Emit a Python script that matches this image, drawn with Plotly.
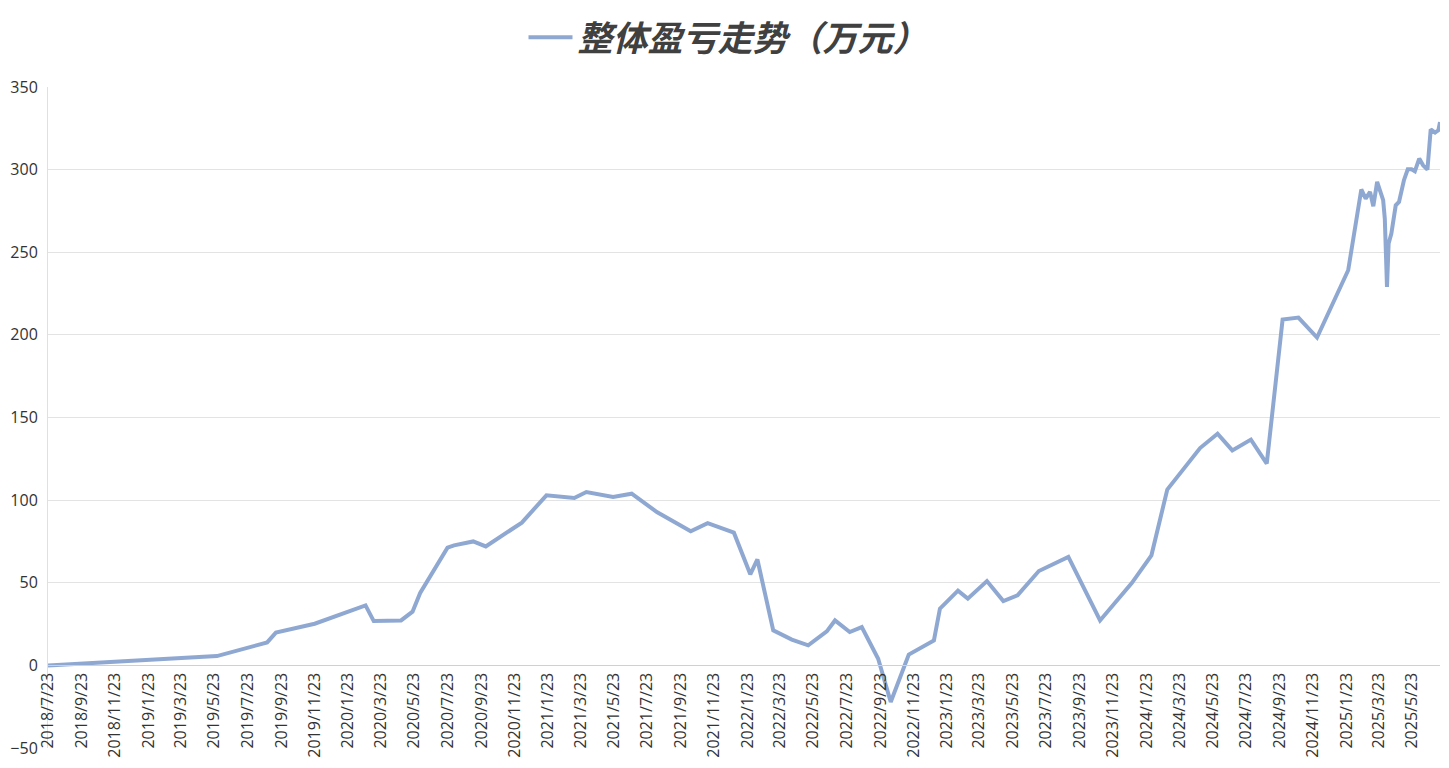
import plotly.graph_objects as go

series_name = "整体盈亏走势（万元）"

dates = [
    "2018-07-23", "2019-05-28", "2019-08-28", "2019-09-13", "2019-11-23",
    "2020-02-24", "2020-03-10", "2020-04-29", "2020-05-20", "2020-06-03",
    "2020-07-23", "2020-08-04", "2020-09-08", "2020-10-01", "2020-12-06",
    "2021-01-20", "2021-03-12", "2021-04-03", "2021-05-22", "2021-06-25",
    "2021-08-10", "2021-09-27", "2021-10-11", "2021-11-11", "2021-12-29",
    "2022-01-28", "2022-02-10", "2022-03-11", "2022-04-14", "2022-05-14",
    "2022-06-17", "2022-07-02", "2022-07-29", "2022-08-20", "2022-09-19",
    "2022-10-12", "2022-11-14", "2022-12-30", "2023-01-10", "2023-02-12",
    "2023-03-02", "2023-04-06", "2023-05-06", "2023-06-01", "2023-07-10",
    "2023-09-02", "2023-10-30", "2023-12-27", "2024-02-01", "2024-03-01",
    "2024-04-30", "2024-06-01", "2024-06-28", "2024-08-01", "2024-08-30",
    "2024-09-28", "2024-10-27", "2024-11-30", "2025-01-26", "2025-02-19",
    "2025-02-27", "2025-03-07", "2025-03-13", "2025-03-20", "2025-03-26",
    "2025-03-31", "2025-04-03", "2025-04-07", "2025-04-10", "2025-04-15",
    "2025-04-23", "2025-04-29", "2025-05-08", "2025-05-15", "2025-05-22",
    "2025-05-28", "2025-06-05", "2025-06-12", "2025-06-20", "2025-06-26",
    "2025-07-04", "2025-07-10", "2025-07-13",
]

values = [
    0.0, 5.6, 13.9, 19.8, 25.2,
    36.3, 26.8, 27.2, 32.5, 43.8,
    71.2, 72.6, 75.0, 72.0, 86.4,
    102.9, 101.3, 104.9, 101.9, 103.9,
    92.8, 83.3, 81.1, 86.1, 80.3,
    55.1, 64.1, 21.2, 15.6, 12.1,
    20.6, 27.2, 20.2, 23.2, 4.0,
    -22.2, 6.5, 15.1, 34.3, 45.2,
    40.4, 51.0, 38.9, 42.4, 57.1,
    65.6, 27.2, 49.8, 66.6, 106.4,
    131.5, 140.2, 130.1, 136.6, 122.1,
    209.3, 210.5, 198.4, 239.1, 288.0,
    282.5, 286.5, 277.8, 292.6, 287.1,
    281.5, 270.4, 229.0, 255.3, 261.3,
    278.4, 280.4, 293.6, 300.2, 300.2,
    299.0, 306.7, 302.6, 300.0, 324.4,
    322.4, 323.8, 328.8,
]

tick_dates = []
tick_labels = []
y, m = 2018, 7
while (y, m) <= (2025, 5):
    tick_dates.append(f"{y}-{m:02d}-23")
    tick_labels.append(f"{y}/{m}/23")
    m += 2
    if m > 12:
        m -= 12
        y += 1

y_min, y_max, y_step = -50, 350, 50

fig = go.Figure()
fig.add_trace(go.Scatter(
    x=dates, y=values, mode="lines", name=series_name,
    line=dict(color="#8FA8D2", width=4),
    showlegend=True,
))

# page body has an 8px default margin, so the figure is sized to fit the window
fig.update_layout(
    width=1441, height=760,
    margin=dict(l=40, r=9, t=79, b=20, autoexpand=False),
    paper_bgcolor="white", plot_bgcolor="white",
    font=dict(family="Open Sans, Noto Sans CJK SC, sans-serif", color="#333333"),
    showlegend=True,
    legend=dict(
        orientation="h", x=0.5, xanchor="center", xref="container",
        y=1.0, yanchor="top", yref="container",
        font=dict(size=35, family="Noto Sans CJK SC, sans-serif", color="#404040",
                  weight="bold", style="italic"),
        itemwidth=44,
        bgcolor="rgba(0,0,0,0)",
    ),
    xaxis=dict(
        type="date",
        range=[dates[0], dates[-1]],
        tickvals=tick_dates, ticktext=tick_labels,
        tickangle=-90,
        tickfont=dict(size=16, color="#333333"),
        showgrid=False,
        showline=True, linecolor="#D0D0D0", linewidth=1,
        anchor="free", position=(0 - y_min) / (y_max - y_min),
        ticks="", zeroline=False, automargin=False,
    ),
    yaxis=dict(
        range=[y_min, y_max], dtick=y_step, tick0=0,
        domain=[0, 1],
        tickfont=dict(size=16, color="#333333"),
        showgrid=True, gridcolor="#E3E3E3", gridwidth=1,
        showline=True, linecolor="#E0E0E0", linewidth=1,
        zeroline=False, ticks="", ticklabelstandoff=6, automargin=False,
    ),
)

fig.write_html("out.html")
